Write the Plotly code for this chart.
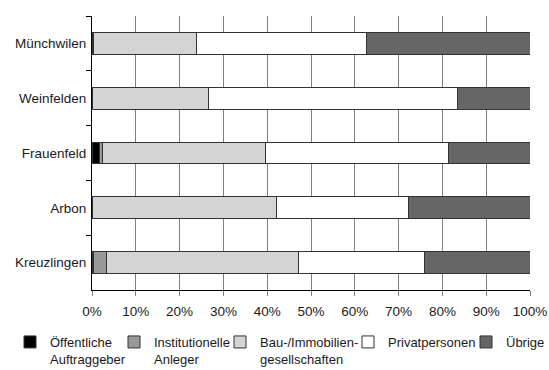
import plotly.graph_objects as go

# Regions (top to bottom) and owner shares in percent
regions = ["Münchwilen", "Weinfelden", "Frauenfeld", "Arbon", "Kreuzlingen"]

oeffentliche = [0.0, 0.0, 1.6, 0.0, 0.3]
institutionelle = [0.4, 0.0, 0.9, 0.0, 2.9]
bau_immobilien = [23.4, 26.5, 37.0, 42.1, 44.0]
privatpersonen = [38.9, 57.0, 41.9, 30.1, 28.7]
uebrige = [37.3, 16.5, 18.6, 27.8, 24.1]

series_names = [
    "Öffentliche<br>Auftraggeber",
    "Institutionelle<br>Anleger",
    "Bau-/Immobilien-<br>gesellschaften",
    "Privatpersonen",
    "Übrige",
]
series_values = [oeffentliche, institutionelle, bau_immobilien, privatpersonen, uebrige]
series_colors = ["#000000", "#999999", "#d4d4d4", "#ffffff", "#666666"]

x_ticks = list(range(0, 101, 10))
x_tick_labels = [f"{v}%" for v in x_ticks]

FONT = "Liberation Sans, Arial, sans-serif"
TEXT_COLOR = "#1a1a1a"

# plot area in pixels (fixed margins)
W, H = 549, 370
M_L, M_R, M_T, M_B = 92, 19, 16, 80
PW = W - M_L - M_R
PH = H - M_T - M_B

# left edges (px) of the single-entry legend boxes along the bottom row
legend_left_px = [10, 114, 220, 348, 466]
LEGEND_TOP_PX = 327

fig = go.Figure()
for i, (name, vals, col) in enumerate(zip(series_names, series_values, series_colors)):
    fig.add_trace(go.Bar(
        y=regions,
        x=vals,
        name=name,
        orientation="h",
        marker=dict(color=col, line=dict(color="#333333", width=1)),
        legend="legend" if i == 0 else f"legend{i + 1}",
    ))

layout_legends = {}
for i, px in enumerate(legend_left_px):
    key = "legend" if i == 0 else f"legend{i + 1}"
    layout_legends[key] = dict(
        x=(px - M_L) / PW, y=-(LEGEND_TOP_PX - (M_T + PH)) / PH,
        xanchor="left", yanchor="top",
        orientation="h", valign="top",
        font=dict(family=FONT, size=13, color=TEXT_COLOR),
        bgcolor="rgba(0,0,0,0)", borderwidth=0,
        itemwidth=30,
    )

fig.update_layout(
    barmode="stack",
    bargap=0.6,
    width=W,
    height=H,
    margin=dict(l=M_L, r=M_R, t=M_T, b=M_B, autoexpand=False),
    paper_bgcolor="white",
    plot_bgcolor="white",
    font=dict(family=FONT, size=13, color=TEXT_COLOR),
    showlegend=True,
    **layout_legends,
)

fig.update_xaxes(
    range=[0, 100],
    tickvals=x_ticks,
    ticktext=x_tick_labels,
    showgrid=True,
    gridcolor="#808080",
    gridwidth=1,
    ticks="outside",
    ticklen=5,
    tickcolor="#808080",
    showline=True,
    linecolor="#000000",
    linewidth=1,
    zeroline=False,
    automargin=False,
    ticklabelstandoff=4,
    tickfont=dict(family=FONT, size=13.5, color=TEXT_COLOR),
)

fig.update_yaxes(
    categoryorder="array",
    categoryarray=regions,
    autorange="reversed",
    showgrid=False,
    ticks="outside",
    tickson="boundaries",
    ticklen=5,
    tickcolor="#000000",
    showline=True,
    linecolor="#000000",
    linewidth=1,
    automargin=False,
    ticklabelstandoff=2,
    tickfont=dict(family=FONT, size=13.5, color=TEXT_COLOR),
)

fig.write_html("out.html")
